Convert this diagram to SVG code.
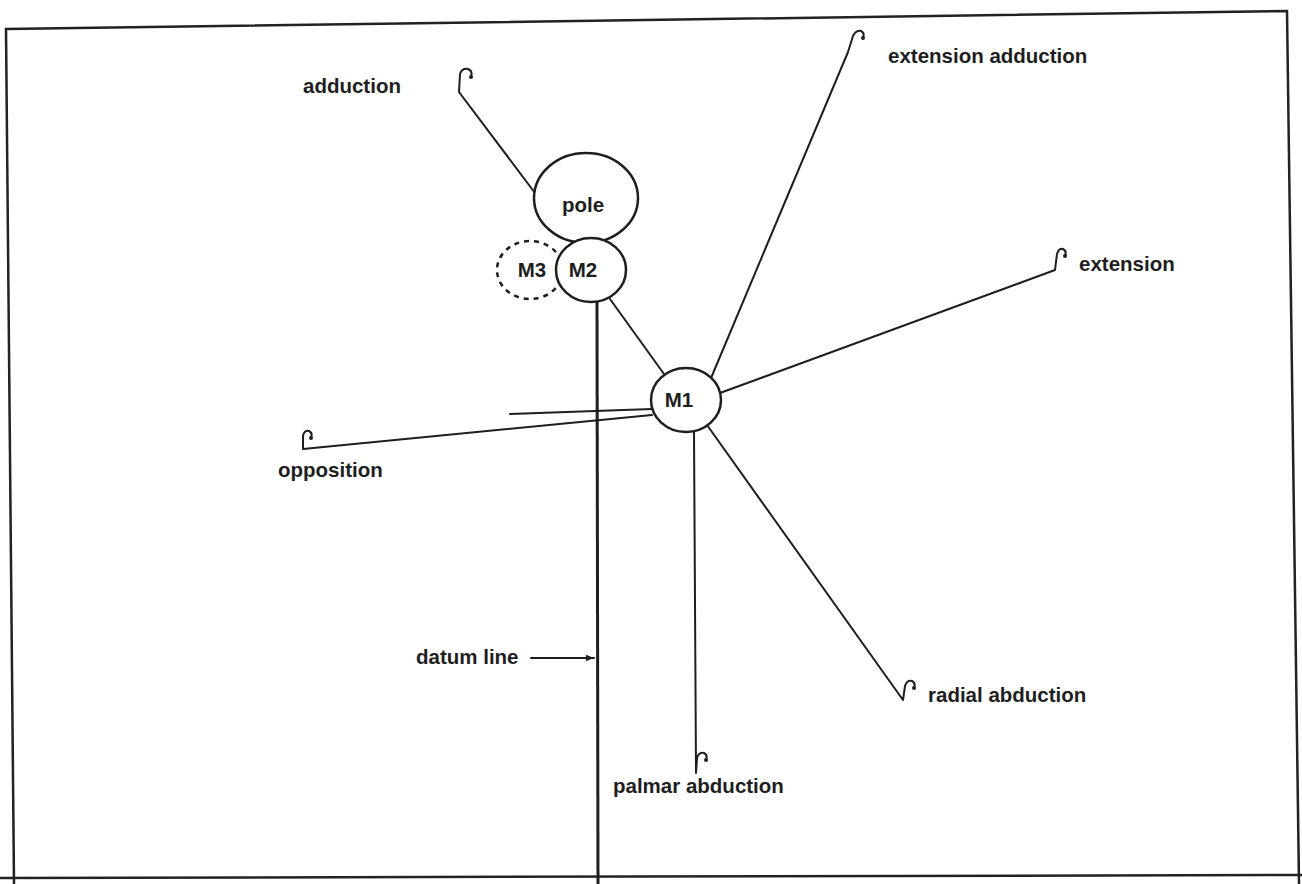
<svg xmlns="http://www.w3.org/2000/svg" width="1302" height="884" viewBox="0 0 1302 884">
<defs>
<style>
.lbl{font-family:"Liberation Sans",Arial,sans-serif;font-weight:bold;font-size:20.5px;fill:#1e1e1e}
.ln{stroke:#1e1e1e;stroke-width:2;fill:none;stroke-linecap:round;stroke-linejoin:round}
.nd{stroke:#1e1e1e;stroke-width:2.5;fill:#fff}
.frame{stroke:#222;stroke-width:2.5;fill:none}
.dot{fill:#1e1e1e}
</style>
<marker id="arr" viewBox="0 0 10 10" refX="10" refY="5" markerWidth="8" markerHeight="8" markerUnits="userSpaceOnUse" orient="auto">
<path d="M0,1 L10,5 L0,9 Z" fill="#1e1e1e"/>
</marker>
</defs>
<rect width="1302" height="884" fill="#fff"/>
<g id="frame">
<path class="frame" d="M14,884 L6,29 L1287,11 L1299,884"/>
<path class="frame" d="M0,878 L1302,875"/>
</g>
<g id="connectors">
<path class="ln" d="M535,193 L459,92 L460,74 Q462,68 468,69 Q473,71 471,77"/>
<circle class="dot" cx="471" cy="77" r="2"/>
<path class="ln" d="M706,390 L848,52 L853,36 Q856,30 861,31 Q865,33 863,38"/>
<circle class="dot" cx="863" cy="38" r="2"/>
<path class="ln" d="M720,393 L1055,270 L1057,254 Q1059,248 1063,249 Q1067,251 1065,256"/>
<circle class="dot" cx="1065" cy="256" r="2"/>
<path class="ln" d="M707,425 L903,700 L905,686 Q907,680 912,681 Q916,683 914,688"/>
<circle class="dot" cx="914" cy="688" r="2"/>
<path class="ln" d="M694,432 L696,773 L697,758 Q699,752 704,753 Q708,755 706,760"/>
<circle class="dot" cx="706" cy="760" r="2"/>
<path class="ln" d="M652,415 L303,449 L303,436 Q304,430 309,431 Q313,433 311,438"/>
<circle class="dot" cx="311" cy="438" r="2"/>
<path class="ln" d="M510,414 L652,409"/>
<path class="ln" d="M610,299 L664,374"/>
<path d="M597,302 L598,884" stroke="#1e1e1e" stroke-width="3" fill="none"/>
<path class="ln" d="M531,658 L594,658" marker-end="url(#arr)" stroke-width="1.5"/>
</g>
<g id="pole">
<ellipse class="nd" cx="586" cy="198" rx="52" ry="45"/>
<text class="lbl" x="583" y="212" text-anchor="middle">pole</text>
</g>
<g id="M3">
<ellipse cx="530" cy="270" rx="33" ry="29" fill="#fff" stroke="#1e1e1e" stroke-width="2.5" stroke-dasharray="5,5"/>
<text class="lbl" x="532" y="277" text-anchor="middle">M3</text>
</g>
<g id="M2">
<ellipse class="nd" cx="591" cy="270" rx="35" ry="32"/>
<text class="lbl" x="583" y="277" text-anchor="middle">M2</text>
</g>
<g id="M1">
<ellipse class="nd" cx="686" cy="400" rx="35" ry="32"/>
<text class="lbl" x="679" y="407" text-anchor="middle">M1</text>
</g>
<g id="labels">
<text class="lbl" x="303" y="93">adduction</text>
<text class="lbl" x="888" y="63">extension adduction</text>
<text class="lbl" x="1079" y="271">extension</text>
<text class="lbl" x="278" y="477">opposition</text>
<text class="lbl" x="928" y="702">radial abduction</text>
<text class="lbl" x="613" y="793">palmar abduction</text>
<text class="lbl" x="416" y="664">datum line</text>
</g>
</svg>
